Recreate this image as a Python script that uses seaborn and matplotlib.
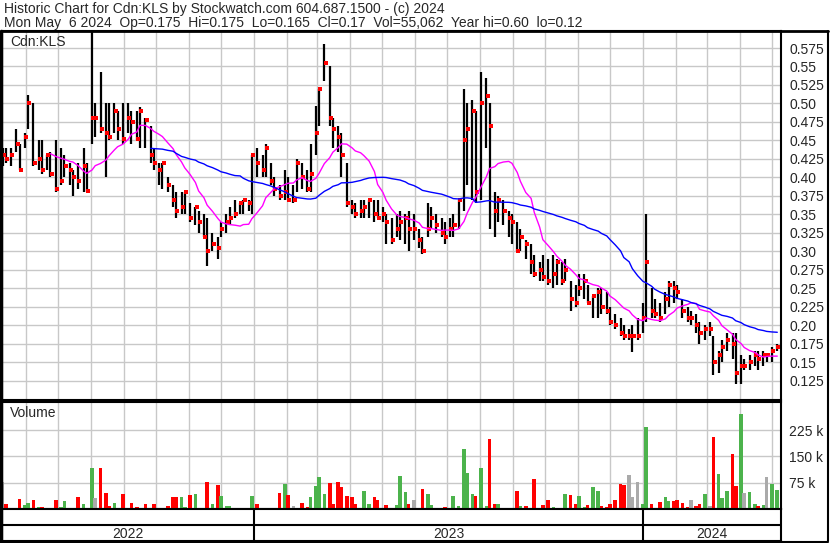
import numpy as np
import pandas as pd
import matplotlib
matplotlib.use("Agg")
import matplotlib.pyplot as plt
import matplotlib.dates as mdates
import matplotlib.transforms as mtransforms
from matplotlib.lines import Line2D
import seaborn as sns

sns.set_style("white")
plt.rcParams['font.family'] = ['Liberation Sans', 'DejaVu Sans']

## --- one bar per three sessions, the last one is Mon May 6 2024
dates = pd.bdate_range("2022-05-09", "2024-05-06")[::-1][::3][::-1]

high = [0.44, 0.44, 0.44, 0.466, 0.445, 0.46, 0.511, 0.50, 0.45, 0.45,
        0.43, 0.435, 0.45, 0.44, 0.43, 0.42, 0.41, 0.42, 0.44, 0.42,
        0.598, 0.50, 0.542, 0.50, 0.50, 0.50, 0.49, 0.50, 0.50, 0.49,
        0.49, 0.495, 0.48, 0.47, 0.44, 0.42, 0.42, 0.40, 0.39, 0.38,
        0.38, 0.38, 0.365, 0.36, 0.355, 0.35, 0.345, 0.325, 0.32, 0.34,
        0.35, 0.36, 0.37, 0.365, 0.37, 0.37, 0.43, 0.44, 0.43, 0.445,
        0.42, 0.40, 0.39, 0.41, 0.40, 0.39, 0.425, 0.42, 0.41, 0.445,
        0.497, 0.52, 0.58, 0.55, 0.48, 0.47, 0.46, 0.42, 0.37, 0.365,
        0.37, 0.37, 0.37, 0.37, 0.37, 0.36, 0.35, 0.345, 0.35, 0.355,
        0.35, 0.355, 0.35, 0.33, 0.32, 0.365, 0.36, 0.35, 0.345, 0.34,
        0.345, 0.35, 0.37, 0.52, 0.50, 0.505, 0.49, 0.542, 0.535, 0.50,
        0.38, 0.375, 0.37, 0.355, 0.35, 0.34, 0.33, 0.315, 0.31, 0.295,
        0.285, 0.295, 0.29, 0.295, 0.29, 0.285, 0.29, 0.26, 0.255, 0.27,
        0.27, 0.255, 0.24, 0.25, 0.25, 0.245, 0.225, 0.215, 0.21, 0.20,
        0.195, 0.20, 0.21, 0.23, 0.35, 0.25, 0.235, 0.23, 0.245, 0.26,
        0.26, 0.255, 0.235, 0.225, 0.22, 0.215, 0.205, 0.20, 0.205, 0.185,
        0.165, 0.18, 0.19, 0.19, 0.19, 0.16, 0.155, 0.16, 0.165, 0.165,
        0.165, 0.16, 0.17, 0.175]
low = [0.415, 0.42, 0.415, 0.435, 0.41, 0.44, 0.465, 0.415, 0.41, 0.405,
       0.41, 0.40, 0.38, 0.39, 0.40, 0.39, 0.375, 0.385, 0.38, 0.38,
       0.445, 0.455, 0.46, 0.40, 0.45, 0.46, 0.45, 0.445, 0.46, 0.445,
       0.45, 0.44, 0.44, 0.42, 0.41, 0.39, 0.385, 0.38, 0.36, 0.345,
       0.35, 0.35, 0.34, 0.335, 0.325, 0.32, 0.28, 0.30, 0.29, 0.32,
       0.325, 0.335, 0.345, 0.35, 0.35, 0.355, 0.35, 0.40, 0.40, 0.40,
       0.39, 0.375, 0.37, 0.37, 0.37, 0.365, 0.38, 0.385, 0.38, 0.38,
       0.43, 0.47, 0.53, 0.47, 0.44, 0.435, 0.40, 0.36, 0.35, 0.345,
       0.345, 0.345, 0.345, 0.34, 0.345, 0.34, 0.31, 0.31, 0.32, 0.315,
       0.31, 0.30, 0.315, 0.305, 0.297, 0.32, 0.33, 0.325, 0.32, 0.31,
       0.32, 0.32, 0.33, 0.355, 0.39, 0.37, 0.365, 0.37, 0.44, 0.33,
       0.32, 0.34, 0.335, 0.32, 0.31, 0.30, 0.30, 0.29, 0.27, 0.265,
       0.26, 0.26, 0.255, 0.25, 0.255, 0.255, 0.26, 0.22, 0.225, 0.24,
       0.235, 0.23, 0.21, 0.21, 0.215, 0.215, 0.20, 0.195, 0.185, 0.18,
       0.18, 0.164, 0.18, 0.19, 0.205, 0.21, 0.21, 0.205, 0.215, 0.225,
       0.23, 0.235, 0.21, 0.205, 0.20, 0.19, 0.175, 0.18, 0.185, 0.133,
       0.135, 0.15, 0.165, 0.155, 0.12, 0.12, 0.14, 0.14, 0.145, 0.14,
       0.145, 0.15, 0.15, 0.165]
close = [0.43, 0.425, 0.43, 0.445, 0.41, 0.455, 0.50, 0.42, 0.425, 0.41,
         0.43, 0.405, 0.385, 0.395, 0.415, 0.41, 0.40, 0.395, 0.415, 0.381,
         0.48, 0.48, 0.466, 0.46, 0.455, 0.49, 0.466, 0.452, 0.48, 0.475,
         0.452, 0.49, 0.478, 0.43, 0.42, 0.41, 0.42, 0.39, 0.37, 0.355,
         0.36, 0.38, 0.345, 0.36, 0.34, 0.32, 0.30, 0.31, 0.305, 0.33,
         0.34, 0.345, 0.35, 0.365, 0.37, 0.365, 0.43, 0.42, 0.41, 0.44,
         0.395, 0.385, 0.375, 0.38, 0.37, 0.37, 0.42, 0.40, 0.385, 0.405,
         0.46, 0.52, 0.555, 0.48, 0.465, 0.455, 0.43, 0.365, 0.36, 0.35,
         0.355, 0.36, 0.37, 0.35, 0.345, 0.35, 0.34, 0.315, 0.33, 0.34,
         0.345, 0.33, 0.33, 0.315, 0.30, 0.33, 0.345, 0.335, 0.325, 0.32,
         0.33, 0.335, 0.37, 0.45, 0.465, 0.49, 0.38, 0.50, 0.51, 0.47,
         0.355, 0.37, 0.355, 0.345, 0.34, 0.30, 0.32, 0.31, 0.285, 0.27,
         0.275, 0.265, 0.26, 0.27, 0.285, 0.26, 0.275, 0.235, 0.23, 0.25,
         0.26, 0.23, 0.24, 0.245, 0.225, 0.22, 0.205, 0.20, 0.19, 0.185,
         0.185, 0.185, 0.185, 0.21, 0.285, 0.22, 0.215, 0.21, 0.235, 0.255,
         0.25, 0.245, 0.22, 0.21, 0.21, 0.20, 0.19, 0.195, 0.195, 0.15,
         0.16, 0.17, 0.18, 0.175, 0.135, 0.145, 0.145, 0.15, 0.16, 0.155,
         0.16, 0.16, 0.165, 0.17]
volume_k = [76, 14, 3, 2, 28, 10, 18, 25, 5, 7,
            3, 3, 25, 5, 23, 3, 3, 35, 14, 3,
            117, 30, 117, 47, 8, 18, 3, 43, 3, 18,
            5, 2, 14, 3, 14, 3, 3, 8, 33, 33,
            33, 5, 39, 43, 3, 3, 76, 14, 68, 36,
            8, 8, 3, 2, 2, 3, 36, 14, 3, 3,
            3, 3, 47, 72, 40, 8, 3, 16, 5, 33,
            66, 91, 44, 73, 14, 76, 62, 36, 33, 14,
            3, 50, 14, 33, 25, 3, 11, 3, 11, 93,
            49, 14, 25, 3, 57, 44, 11, 3, 3, 5,
            3, 37, 8, 170, 102, 44, 38, 117, 8, 200,
            14, 14, 3, 2, 3, 50, 8, 8, 3, 85,
            3, 11, 25, 5, 3, 3, 43, 39, 14, 36,
            5, 11, 64, 50, 8, 5, 14, 25, 70, 68,
            96, 33, 78, 14, 234, 14, 3, 19, 34, 23,
            23, 25, 16, 5, 27, 8, 14, 44, 8, 205,
            100, 30, 50, 156, 65, 272, 46, 49, 14, 8,
            10, 91, 70, 55]

price_ticks = np.arange(0.125, 0.5751, 0.025)
volume_ticks = [75, 150, 225]
years = ["2022", "2023", "2024"]

df = pd.DataFrame({"date": dates, "high": high, "low": low,
                   "close": close, "volume": volume_k})
df["ma_fast"] = df["close"].rolling(12).mean()
df["ma_slow"] = df["close"].rolling(34).mean()
chg = df["close"].diff().fillna(0)
df["vcol"] = np.where(chg > 0, "#4cb34c", np.where(chg < 0, "#ff0000", "#aaaaaa"))

## --- layout in pixels
W, H = 830, 543
def box(x0, y0, x1, y1):
    return [x0 / W, 1 - y1 / H, (x1 - x0) / W, (y1 - y0) / H]

fig = plt.figure(figsize=(8.3, 5.43), dpi=100)
ax = fig.add_axes(box(2, 31, 781, 400))
axv = fig.add_axes(box(2, 402, 781, 509))
axy = fig.add_axes(box(2, 509, 781, 541))

xlim = (pd.Timestamp("2022-05-09 12:00"), pd.Timestamp("2024-05-09 12:00"))
grid_c = "#c8c8c8"
fs = 10

## --- price panel: hi-lo bars, close tick a little to the right
ax.vlines(df["date"], df["low"], df["high"], color="black", lw=1.6, zorder=3)
right = mtransforms.offset_copy(ax.transData, fig=fig, x=1.2, y=0, units="dots")
sns.scatterplot(data=df, x="date", y="close", ax=ax, color="red", marker="s",
                s=5, linewidth=0, zorder=4, transform=right)
sns.lineplot(data=df, x="date", y="ma_fast", ax=ax, color="#ff00ff", lw=1, zorder=5)
sns.lineplot(data=df, x="date", y="ma_slow", ax=ax, color="#0000ff", lw=1, zorder=5)
ax.set_xlim(xlim)
ax.set_ylim(0.099, 0.598)
ax.set_yticks(price_ticks)
lbl = []
for v in price_ticks:
    s = "%.3f" % v
    lbl.append(s[:-1] if s.endswith("0") else s)
ax.set_yticklabels(lbl)
ax.yaxis.tick_right()
ax.xaxis.set_major_locator(mdates.MonthLocator())
ax.tick_params(axis="y", length=0, pad=6, labelsize=fs)
ax.tick_params(axis="x", length=0, labelbottom=False)
ax.grid(True, color=grid_c, lw=1)
ax.set_axisbelow(True)
ax.set_xlabel("")
ax.set_ylabel("")
ax.text(8 / 779, 1 - 11 / 369, "Cdn:KLS", transform=ax.transAxes,
        fontsize=fs, va="center", ha="left")

## --- volume panel
axv.bar(df["date"], df["volume"], width=3.4, color=df["vcol"], linewidth=0, zorder=3)
axv.set_xlim(xlim)
axv.set_ylim(0, 305)
axv.set_yticks(volume_ticks)
axv.set_yticklabels(["%d k" % v for v in volume_ticks])
axv.yaxis.tick_right()
axv.xaxis.set_major_locator(mdates.MonthLocator())
axv.tick_params(axis="y", length=0, pad=6, labelsize=fs)
axv.tick_params(axis="x", length=0, labelbottom=False)
axv.grid(True, color=grid_c, lw=1)
axv.set_axisbelow(True)
axv.text(8 / 779, 1 - 11 / 107, "Volume", transform=axv.transAxes,
         fontsize=fs, va="center", ha="left")

## --- year strip
axy.set_xlim(xlim)
axy.set_ylim(0, 1)
axy.set_xticks([])
axy.set_yticks([])
axy.axhline(0.5, color="black", lw=1.5)
bounds = [xlim[0], pd.Timestamp("2023-01-01"), pd.Timestamp("2024-01-01"), xlim[1]]
for b in bounds[1:3]:
    axy.axvline(b, color="black", lw=1.5)
for k, y in enumerate(years):
    mid = bounds[k] + (bounds[k + 1] - bounds[k]) / 2
    axy.text(mid, 0.22, y, ha="center", va="center", fontsize=fs)

for a in (ax, axv, axy):
    for sp in a.spines.values():
        sp.set_color("black")
        sp.set_linewidth(1.5)

## --- outer frame and header
def fline(xs, ys, lw=1.5):
    fig.add_artist(Line2D([x / W for x in xs], [1 - y / H for y in ys],
                          color="black", lw=lw))

fline([1, 828], [31, 31], 2)
fline([828, 828], [31, 541])
fline([1, 828], [541.5, 541.5])
fline([1, 1], [31, 541.5], 2.5)

fig.text(4 / W, 1 - 8.5 / H,
         "Historic Chart for Cdn:KLS by Stockwatch.com 604.687.1500 - (c) 2024",
         fontsize=fs, va="center", ha="left")
fig.text(4 / W, 1 - 22.5 / H,
         "Mon May  6 2024  Op=0.175  Hi=0.175  Lo=0.165  Cl=0.17  Vol=55,062  Year hi=0.60  lo=0.12",
         fontsize=fs, va="center", ha="left")

fig.savefig("out.png", dpi=100)
